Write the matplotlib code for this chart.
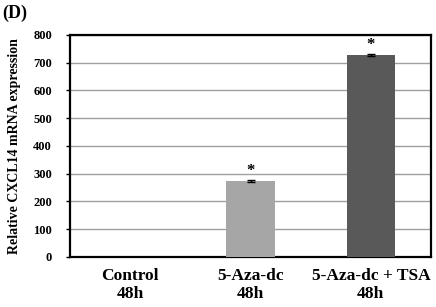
import numpy as np
import matplotlib.pyplot as plt

groups = ['Control\n48h', '5-Aza-dc\n48h', '5-Aza-dc + TSA\n48h']
values = [1, 274, 728]
errors = [0.5, 4, 4]
colors = ['#333333', '#a6a6a6', '#595959']
stars = ['', '*', '*']

plt.rcParams['font.family'] = 'Liberation Serif'
plt.rcParams['font.weight'] = 'bold'

fig = plt.figure(figsize=(4.36, 3.07), dpi=100)
ax = fig.add_axes([0.1606, 0.163, 0.828, 0.723])

x = np.arange(len(groups))
ax.bar(x, values, width=0.4, color=colors, zorder=3,
       yerr=errors, error_kw=dict(ecolor='black', capsize=3, elinewidth=1, capthick=1))
for xi, v, e, s in zip(x, values, errors, stars):
    if s:
        ax.text(xi, v + e + 2, s, ha='center', va='bottom', fontsize=12)

ax.set_xlim(-0.5, 2.5)
ax.set_ylim(0, 800)
ax.set_yticks(np.arange(0, 801, 100))
ax.yaxis.grid(True, color='#a0a0a0', linewidth=1, zorder=0)
ax.set_xticks(x)
ax.set_xticklabels(groups, fontsize=12.5, fontweight='bold', linespacing=1.15)
ax.tick_params(axis='x', length=0, pad=8)
ax.tick_params(axis='y', labelsize=9, length=3, width=1, direction='out', pad=10)
for sp in ax.spines.values():
    sp.set_linewidth(1.6)
    sp.set_color('black')
ax.set_ylabel('Relative CXCL14 mRNA expression', fontsize=10, fontweight='bold', labelpad=9)
fig.text(0.005, 0.985, '(D)', fontsize=13, fontweight='bold', va='top', ha='left')

fig.savefig('out.png', dpi=100)
